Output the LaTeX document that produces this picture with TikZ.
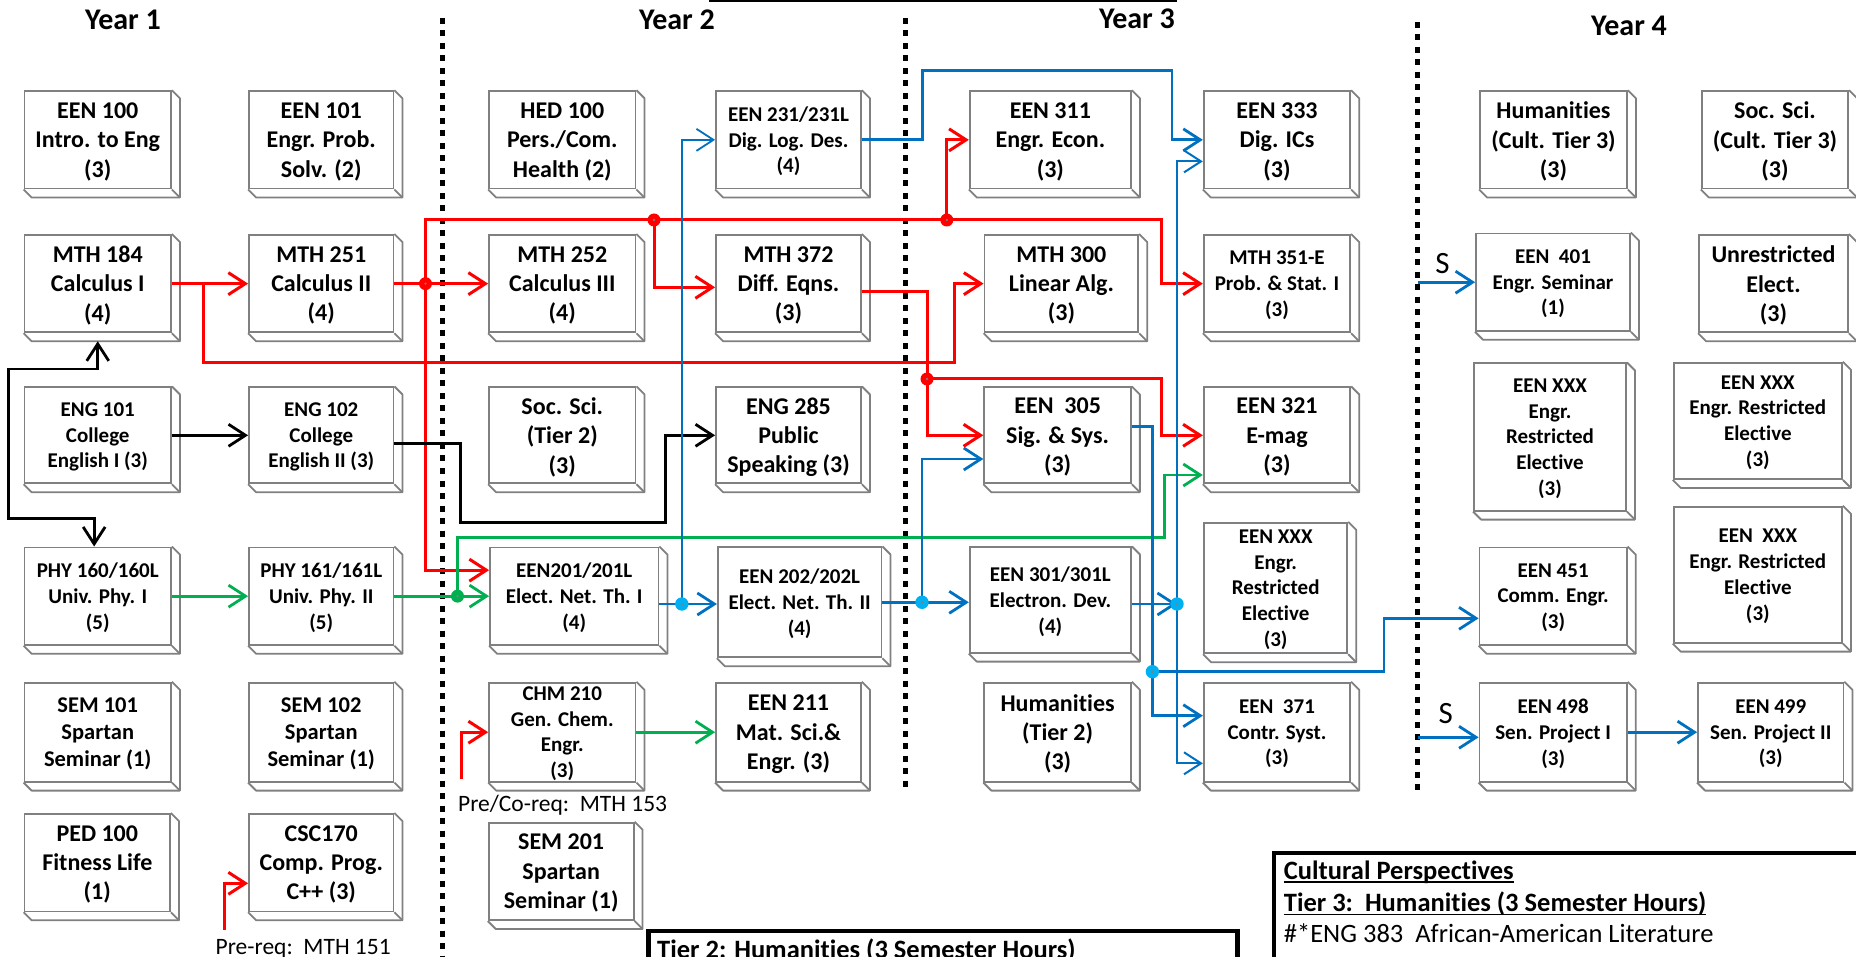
\documentclass[tikz,border=0pt]{standalone}
\usepackage{fontspec}
\setmainfont{Carlito}[Ligatures=NoCommon]
\usetikzlibrary{arrows.meta}
\definecolor{prered}{RGB}{255,0,0}
\definecolor{preblue}{RGB}{0,112,192}
\definecolor{pregreen}{RGB}{0,176,80}
\definecolor{dotcyan}{RGB}{0,176,240}
\definecolor{boxgray}{RGB}{128,128,128}
\newcommand{\bigtxt}{\bfseries\fontsize{24}{29.3}\selectfont}
\newcommand{\midtxt}{\bfseries\fontsize{22.5}{27}\selectfont}
\newcommand{\smalltxt}{\bfseries\fontsize{21}{25.7}\selectfont}
\newcommand{\undl}[1]{\setbox0=\hbox{#1}\rlap{\rule[-3.6pt]{\wd0}{1.8pt}}\box0}

\begin{document}
\begin{tikzpicture}[x=1pt,y=-1pt,
>={Straight Barb[length=17pt,width=22pt]},
course/.style={draw=boxgray, line width=1.8pt, fill=white, inner sep=0pt,
  align=center, minimum width=146.5pt, minimum height=97.5pt, font=\bigtxt,
  text depth=-14pt},
midcourse/.style={course, font=\midtxt},
smallcourse/.style={course, font=\smalltxt},
bevel/.style={draw=boxgray, line width=1.8pt, line join=round},
yearlbl/.style={anchor=base, inner sep=0pt, font=\bfseries\fontsize{30}{36}\selectfont},
yearsep/.style={draw=black, line width=5pt, dash pattern=on 6pt off 6.5pt},
pr/.style={draw=prered, line width=3pt, ->},
bk/.style={draw=black, line width=2.8pt, ->},
gr/.style={draw=pregreen, line width=2.8pt, ->},
bl/.style={draw=preblue, line width=2.8pt, ->},
note/.style={anchor=base west, inner sep=0pt, font=\fontsize{23.5}{28}\selectfont},
infotxt/.style={anchor=base west, inner sep=0pt, font=\fontsize{26.5}{32}\selectfont}]

\useasboundingbox (0,0) rectangle (1856,957);
\clip (0,0) rectangle (1856,957);

% year headings and separators
\node[yearlbl] (year1) at (123,30) {Year 1};
\node[yearlbl] (year2) at (677,30) {Year 2};
\node[yearlbl] (year3) at (1137,28.3) {Year 3};
\node[yearlbl] (year4) at (1629,36) {Year 4};
\draw[line width=3pt] (709,1) -- (1177,1);
\draw[yearsep] (442,18) -- (442,957);
\draw[yearsep] (905.6,18) -- (905.6,788);
\draw[yearsep] (1417.6,21.7) -- (1417.6,792.7);

% row 1
\node[course] (een100) at (97.75,139.85) {EEN 100\\Intro. to Eng\\(3)};
\node[course, minimum width=144.5pt] (een101) at (321.25,139.85) {EEN 101\\Engr. Prob.\\Solv. (2)};
\node[course] (hed100) at (562.3,139.85) {HED 100\\Pers./Com.\\Health (2)};
\node[smallcourse, minimum width=145pt] (een231) at (788.5,139.85) {EEN 231/231L\\Dig. Log. Des.\\(4)};
\node[course, minimum width=161.3pt] (een311) at (1050.35,139.85) {EEN 311\\Engr. Econ.\\(3)};
\node[course] (een333) at (1277,139.85) {EEN 333\\Dig. ICs\\(3)};
\node[course, minimum width=147pt] (humct) at (1553.5,139.85) {Humanities\\(Cult. Tier 3)\\(3)};
\node[course] (socct) at (1775,139.85) {Soc. Sci.\\(Cult. Tier 3)\\(3)};

% row 2
\node[course] (mth184) at (97.75,283.65) {MTH 184\\Calculus I\\(4)};
\node[course, minimum width=144.5pt] (mth251) at (321.25,283.65) {MTH 251\\Calculus II\\(4)};
\node[course] (mth252) at (562.3,283.65) {MTH 252\\Calculus III\\(4)};
\node[course, minimum width=145pt] (mth372) at (788.5,283.65) {MTH 372\\Diff. Eqns.\\(3)};
\node[course, minimum width=153.8pt] (mth300) at (1061.4,283.65) {MTH 300\\Linear Alg.\\(3)};
\node[smallcourse] (mth351) at (1277,283.65) {MTH 351-E\\Prob. \& Stat. I\\(3)};
\node[smallcourse, minimum width=154pt] (een401) at (1553,282.2) {EEN\ \ 401\\Engr. Seminar\\(1)};
\node[course, minimum width=149pt] (unrel) at (1773.5,283.65) {Unrestricted\\Elect.\\(3)};

% row 3
\node[smallcourse, minimum height=96pt] (eng101) at (97.75,435.3) {ENG 101\\College\\English I (3)};
\node[smallcourse, minimum width=144.5pt, minimum height=96pt] (eng102) at (321.25,435.3) {ENG 102\\College\\English II (3)};
\node[course, minimum height=96pt] (socsci) at (562.3,435.3) {Soc. Sci.\\(Tier 2)\\(3)};
\node[course, minimum width=145pt, minimum height=96pt] (eng285) at (788.5,435.3) {ENG 285\\Public\\Speaking (3)};
\node[course, minimum width=146.7pt, minimum height=96pt] (een305) at (1057.6,435.3) {EEN\ \ 305\\Sig. \& Sys.\\(3)};
\node[course, minimum height=96pt] (een321) at (1277,435.3) {EEN 321\\E-mag\\(3)};
\node[smallcourse, minimum width=152pt, minimum height=147.4pt] (eenxa) at (1550,437) {EEN XXX\\Engr.\\Restricted\\Elective\\(3)};
\node[smallcourse, minimum width=168.4pt, minimum height=116.3pt] (eenxb) at (1757.8,420.85) {EEN XXX\\Engr. Restricted\\Elective\\(3)};

% row 4
\node[smallcourse] (phy160) at (97.75,596.15) {PHY 160/160L\\Univ. Phy. I\\(5)};
\node[smallcourse, minimum width=144.5pt] (phy161) at (321.25,596.15) {PHY 161/161L\\Univ. Phy. II\\(5)};
\node[smallcourse, minimum width=168.5pt] (een201) at (574.25,596.15) {EEN201/201L\\Elect. Net. Th. I\\(4)};
\node[smallcourse, minimum width=163.7pt, minimum height=110pt] (een202) at (799.65,602.3) {EEN 202/202L\\Elect. Net. Th. II\\(4)};
\node[smallcourse, minimum width=161.3pt, minimum height=105.4pt] (een301) at (1050.35,600) {EEN 301/301L\\Electron. Dev.\\(4)};
\node[smallcourse, minimum width=143.3pt, minimum height=130.6pt] (eenxc) at (1275.65,588) {EEN XXX\\Engr.\\Restricted\\Elective\\(3)};
\node[smallcourse, minimum width=147.3pt] (een451) at (1553.15,596.15) {EEN 451\\Comm. Engr.\\(3)};
\node[smallcourse, minimum width=168.4pt, minimum height=136pt] (eenxd) at (1757.8,574.7) {EEN\ \ XXX\\Engr. Restricted\\Elective\\(3)};

% row 5
\node[midcourse, minimum height=99pt] (sem101) at (97.75,732.2) {SEM 101\\Spartan\\Seminar (1)};
\node[midcourse, minimum width=144.5pt, minimum height=99pt] (sem102) at (321.25,732.2) {SEM 102\\Spartan\\Seminar (1)};
\node[smallcourse, minimum height=99pt] (chm210) at (562.3,732.2) {CHM 210\\Gen. Chem.\\Engr.\\(3)};
\node[course, minimum width=145pt, minimum height=99pt] (een211) at (788.5,732.2) {EEN 211\\Mat. Sci.\&\\Engr. (3)};
\node[course, minimum width=146.7pt, minimum height=99pt] (humt2) at (1057.6,732.2) {Humanities\\(Tier 2)\\(3)};
\node[smallcourse, minimum height=99pt] (een371) at (1277,732.2) {EEN\ \ 371\\Contr. Syst.\\(3)};
\node[smallcourse, minimum width=147.3pt, minimum height=99pt] (een498) at (1553.15,732.2) {EEN 498\\Sen. Project I\\(3)};
\node[smallcourse, minimum width=145.5pt, minimum height=99pt] (een499) at (1770.75,732.2) {EEN 499\\Sen. Project II\\(3)};

% row 6
\node[course, minimum width=145.5pt] (ped100) at (97.3,862.65) {PED 100\\Fitness Life\\(1)};
\node[course, minimum width=144.5pt] (csc170) at (321.25,862.65) {CSC170\\Comp. Prog.\\C++ (3)};
\node[course, minimum width=145pt] (sem201) at (561.15,871.35) {SEM 201\\Spartan\\Seminar (1)};

% 3-d edge of every course box
\foreach \n in {een100,een101,hed100,een231,een311,een333,humct,socct,
  mth184,mth251,mth252,mth372,mth300,mth351,een401,unrel,
  eng101,eng102,socsci,eng285,een305,een321,eenxa,eenxb,
  phy160,phy161,een201,een202,een301,eenxc,een451,eenxd,
  sem101,sem102,chm210,een211,humt2,een371,een498,een499,
  ped100,csc170,sem201}{
  \draw[bevel] (\n.north east) -- ++(8,8) -- ([shift={(8,8)}]\n.south east)
    -- ([shift={(8,8)}]\n.south west) -- (\n.south west);
  \draw[bevel] (\n.south east) -- ++(8,8);
}

% junctions
\coordinate (r1) at (425.5,283.65);
\coordinate (r2) at (654,220);
\coordinate (r3) at (946.8,220);
\coordinate (r4) at (927,379);
\coordinate (g1) at (457.5,596.15);
\coordinate (b1) at (681.8,604);
\coordinate (b2) at (922,602.3);
\coordinate (b3) at (1177,604);
\coordinate (b4) at (1152.4,671.7);
\coordinate (s1) at (1417.6,282.2);
\coordinate (s2) at (1417.6,737.3);
\coordinate (pq1) at (224.2,930);
\coordinate (pq2) at (461.8,779.3);

% math prerequisites
\draw[pr] (mth184) -- (mth251);
\draw[pr] (mth184.east) -- ++(31.5,0) |- (954.4,362.7) |- (mth300.west);
\draw[pr] (mth251) -- (mth252);
\draw[pr] (r1) |- ([yshift=26pt]een201.west);
\draw[pr] (r1) |- (1161.5,220) |- (mth351.west);
\draw[pr] (r2) |- ([yshift=-3.65pt]mth372.west);
\draw[pr] (r3) |- (een311.west);
\draw[pr] ([yshift=-8.35pt]mth372.east) -| (r4) |- (een305.west);
\draw[pr] (r4) -- (1161.5,379) |- (een321.west);
\draw[pr] (pq1) |- ([yshift=-20.65pt]csc170.west);
\draw[pr] (pq2) |- (chm210.west);

% english
\draw[bk] (eng101) -- (eng102);
\draw[bk] ([yshift=-8pt]eng102.east) -- (460.7,443.3) |- (665.2,522.7) |- (eng285.west);
\draw[bk,<->] ([yshift=-8pt]mth184.south) -- ++(0,27.7) -| (8.7,518.3) -| ([xshift=-3.6pt]phy160.north);

% physics and chemistry
\draw[gr] (phy160) -- (phy161);
\draw[gr] (phy161) -- (een201);
\draw[gr] (g1) |- (1164.7,537.7) |- ([yshift=-39.7pt]een321.west);
\draw[gr] (chm210) -- (een211);

% engineering
\draw[bl] ([yshift=-7.85pt]een201.east) -- (een202.west |- b1);
\draw[bl, line width=1.8pt] (b1) |- (een231.west);
\draw[bl] (een202.east) -- (een202.east -| een301.west);
\draw[bl] (b2) |- ([yshift=-23.7pt]een305.west);
\draw[bl] (een231.east) -- (922.3,139.85) |- (1172,70.7) |- (een333.west);
\draw[bl] ([yshift=-4pt]een301.east) -- (b3);
\draw[bl, line width=2pt] (b3) |- ([yshift=-21.55pt]een333.west);
\draw[bl, line width=2pt] (b3) |- ([yshift=-31.1pt]een371.west);
\draw[bl] ([yshift=8.6pt]een305.east) -| (b4) |- ([yshift=16.5pt]een371.west);
\draw[bl] (b4) -- (1384,671.7) |- ([yshift=-22.15pt]een451.west);
\draw[bl] (s1) -- (s1 -| een401.west);
\draw[bl] (s2) -- (s2 -| een498.west);
\draw[bl] (een498) -- (een499);

% junction dots
\foreach \p in {r1,r2,r3,r4}{\fill[prered] (\p) circle (6.5pt); \fill[boxgray] (\p) circle (1.3pt);}
\fill[pregreen] (g1) circle (6.5pt); \fill[boxgray] (g1) circle (1.3pt);
\foreach \p in {b1,b2,b3,b4}{\fill[dotcyan] (\p) circle (6.7pt); \fill[boxgray] (\p) circle (1.3pt);}

% labels
\node[anchor=base, inner sep=0pt, font=\fontsize{31}{36}\selectfont] (slbl1) at (1442.6,273.3) {S};
\node[anchor=base, inner sep=0pt, font=\fontsize{31}{36}\selectfont] (slbl2) at (1445.7,723.3) {S};
\node[note] (prereq) at (215.5,954.5) {Pre-req:\ \ MTH 151};
\node[note] (coreq) at (457.9,811.5) {Pre/Co-req:\ \ MTH 153};

% cultural perspectives boxes
\draw[line width=4.3pt] (648.5,1000) |- (1237.5,931.3) -- (1237.5,1000);
\node[infotxt] (tiertwo) at (657,958.5) {\bfseries Tier 2: Humanities (3 Semester Hours)};
\draw[line width=4pt] (1274,1000) |- (1900,853);
\node[infotxt] (cultitle) at (1283.7,879.3) {\bfseries\undl{Cultural Perspectives}};
\node[infotxt] (tierthree) at (1283.7,911.7) {\bfseries\undl{Tier 3:\ \ Humanities (3 Semester Hours)}};
\node[infotxt] (eng383) at (1283.7,942.7) {\#*ENG 383\ \ African-American Literature};

\end{tikzpicture}
\end{document}
